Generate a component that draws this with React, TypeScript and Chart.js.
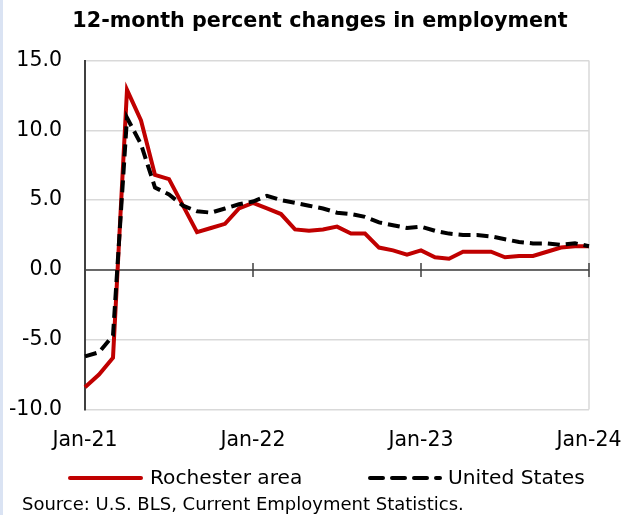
import { useEffect, useRef } from "react";
import { Chart, registerables } from "chart.js";

Chart.register(...registerables);

const months = [
  "Jan-21", "Feb-21", "Mar-21", "Apr-21", "May-21", "Jun-21", "Jul-21", "Aug-21", "Sep-21", "Oct-21", "Nov-21", "Dec-21",
  "Jan-22", "Feb-22", "Mar-22", "Apr-22", "May-22", "Jun-22", "Jul-22", "Aug-22", "Sep-22", "Oct-22", "Nov-22", "Dec-22",
  "Jan-23", "Feb-23", "Mar-23", "Apr-23", "May-23", "Jun-23", "Jul-23", "Aug-23", "Sep-23", "Oct-23", "Nov-23", "Dec-23",
  "Jan-24",
];

const rochester = [
  -8.4, -7.5, -6.3, 12.9, 10.7, 6.8, 6.5, 4.6, 2.7, 3.0, 3.3, 4.4,
  4.8, 4.4, 4.0, 2.9, 2.8, 2.9, 3.1, 2.6, 2.6, 1.6, 1.4, 1.1,
  1.4, 0.9, 0.8, 1.3, 1.3, 1.3, 0.9, 1.0, 1.0, 1.3, 1.6, 1.7,
  1.7,
];

const unitedStates = [
  -6.2, -5.9, -4.7, 10.9, 9.0, 5.9, 5.4, 4.6, 4.2, 4.1, 4.4, 4.7,
  4.9, 5.3, 5.0, 4.8, 4.6, 4.4, 4.1, 4.0, 3.8, 3.4, 3.2, 3.0,
  3.1, 2.8, 2.6, 2.5, 2.5, 2.4, 2.2, 2.0, 1.9, 1.9, 1.8, 1.9,
  1.7,
];

const xTickLabels = ["Jan-21", "Jan-22", "Jan-23", "Jan-24"];
const yMin = -10;
const yMax = 15;
const yStep = 5;

const titleText = "12-month percent changes in employment";
const seriesNames = ["Rochester area", "United States"];
const sourceText = "Source: U.S. BLS, Current Employment Statistics.";

const RED = "#c00000";
const BLACK = "#000000";
const FONT = "'DejaVu Sans', sans-serif";

const decor = {
  id: "decor",
  beforeDatasetsDraw(chart: any) {
    const { ctx, chartArea, scales } = chart;
    const { left, right, top, bottom } = chartArea;
    const x = scales.x;
    const y = scales.y;
    ctx.save();
    // right border of plot area
    ctx.strokeStyle = "#d9d9d9";
    ctx.lineWidth = 1.5;
    ctx.beginPath();
    ctx.moveTo(right, top);
    ctx.lineTo(right, bottom);
    ctx.stroke();
    // zero line with cross tick marks
    const y0 = y.getPixelForValue(0);
    ctx.strokeStyle = "#404040";
    ctx.lineWidth = 1.5;
    ctx.beginPath();
    ctx.moveTo(left, y0);
    ctx.lineTo(right, y0);
    months.forEach((m, i) => {
      if (xTickLabels.includes(m)) {
        const px = x.getPixelForValue(i);
        ctx.moveTo(px, y0 - 7);
        ctx.lineTo(px, y0 + 7);
      }
    });
    ctx.stroke();
    ctx.restore();
  },
  afterDraw(chart: any) {
    const { ctx } = chart;
    ctx.save();
    // title
    ctx.fillStyle = "#000";
    ctx.font = `bold 20.7px ${FONT}`;
    ctx.textAlign = "center";
    ctx.textBaseline = "middle";
    ctx.fillText(titleText, 320, 22);

    // legend
    ctx.textAlign = "left";
    ctx.font = `20.2px ${FONT}`;
    ctx.strokeStyle = RED;
    ctx.lineWidth = 4;
    ctx.lineCap = "round";
    ctx.beginPath();
    ctx.moveTo(70, 478);
    ctx.lineTo(141, 478);
    ctx.stroke();
    ctx.fillText(seriesNames[0], 150, 479);

    ctx.strokeStyle = BLACK;
    ctx.setLineDash([13, 9]);
    ctx.beginPath();
    ctx.moveTo(370, 478);
    ctx.lineTo(440, 478);
    ctx.stroke();
    ctx.setLineDash([]);
    ctx.fillText(seriesNames[1], 448, 479);

    // source
    ctx.font = `18px ${FONT}`;
    ctx.fillText(sourceText, 22, 505);
    ctx.restore();
  },
};

export default function App() {
  const canvasRef = useRef<HTMLCanvasElement | null>(null);

  useEffect(() => {
    const canvas = canvasRef.current;
    if (!canvas) return;
    const chart = new Chart(canvas, {
      type: "line",
      data: {
        labels: months,
        datasets: [
          {
            label: seriesNames[0],
            data: rochester,
            borderColor: RED,
            backgroundColor: RED,
            borderWidth: 4,
            pointRadius: 0,
            tension: 0,
            order: 1,
            borderJoinStyle: "miter",
          },
          {
            label: seriesNames[1],
            data: unitedStates,
            borderColor: BLACK,
            backgroundColor: BLACK,
            borderWidth: 4,
            borderDash: [12, 6],
            pointRadius: 0,
            tension: 0,
            order: 0,
          },
        ],
      },
      options: {
        animation: false,
        responsive: false,
        maintainAspectRatio: false,
        layout: { padding: { top: 60.5, right: 35, bottom: 0, left: 0 } },
        plugins: {
          legend: { display: false },
          title: { display: false },
          tooltip: { enabled: false },
        },
        scales: {
          x: {
            type: "category",
            offset: false,
            grid: { display: false, drawTicks: false },
            border: { display: false },
            ticks: {
              autoSkip: false,
              maxRotation: 0,
              minRotation: 0,
              padding: 19,
              color: "#000",
              font: { family: FONT, size: 20.5 },
              callback: (_v: any, i: number) => (xTickLabels.includes(months[i]) ? months[i] : ""),
            },
            afterFit: (scale: any) => {
              scale.height = 105.5;
              scale.paddingLeft = 0;
              scale.paddingRight = 0;
            },
          },
          y: {
            min: yMin,
            max: yMax,
            ticks: {
              stepSize: yStep,
              padding: 23,
              color: "#000",
              font: { family: FONT, size: 20.5 },
              callback: (v: any) => Number(v).toFixed(1),
            },
            grid: {
              drawTicks: false,
              color: "#d9d9d9",
              lineWidth: 1.5,
            },
            border: { display: true, color: "#404040", width: 2 },
            afterFit: (scale: any) => {
              scale.width = 85;
            },
          },
        },
      },
      plugins: [decor],
    });
    return () => chart.destroy();
  }, []);

  return (
    <div style={{ position: "absolute", left: 0, top: 0, width: 624, height: 515, background: "#fff" }}>
      <div style={{ position: "absolute", left: 0, top: 0, width: 3, height: 515, background: "#dae3f3" }} />
      <canvas ref={canvasRef} width={624} height={515} style={{ position: "absolute", left: 0, top: 0 }} />
    </div>
  );
}
